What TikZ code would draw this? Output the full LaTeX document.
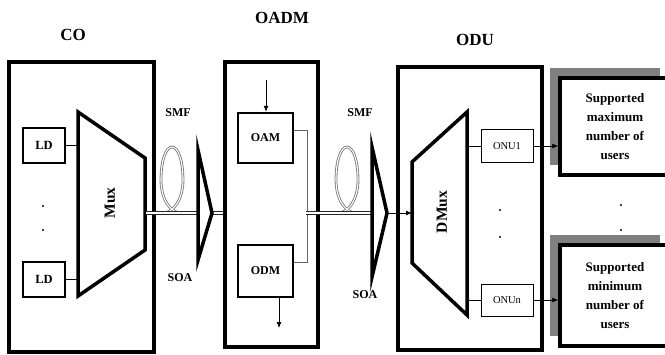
\documentclass[tikz,border=0pt]{standalone}
\usepackage{fontspec}
\setmainfont{Liberation Serif}
\usetikzlibrary{arrows.meta,positioning,shadows}

\begin{document}
\begin{tikzpicture}[x=1pt, y=-1pt,
  unit/.style={draw, line width=3.5pt, inner sep=0pt},
  title/.style={font=\fontsize{17}{20}\selectfont\bfseries},
  tag/.style={font=\fontsize{12}{14}\selectfont\bfseries},
  ldbox/.style={draw, line width=1.8pt, minimum width=42pt, minimum height=35pt, font=\fontsize{12.5}{14}\selectfont\bfseries},
  mbox/.style={draw, line width=2.5pt, minimum width=55pt, minimum height=50pt, font=\fontsize{12}{14}\selectfont\bfseries},
  onubox/.style={draw, line width=0.8pt, minimum width=52pt, minimum height=33pt, font=\fontsize{10.5}{12}\selectfont},
  user/.style={draw, line width=3.5pt, fill=white, minimum width=110pt, minimum height=99pt, align=center,
    font=\fontsize{13}{19}\selectfont\bfseries,
    drop shadow={shadow xshift=-10pt, shadow yshift=10pt, opacity=1, fill=black!50}},
  wedge/.style={draw, line width=3.5pt, line join=miter},
  fiber/.style={draw=black!85, double=white, double distance=1.2pt, line width=1.1pt},
  loopfiber/.style={draw=black!55, double=white, double distance=1.1pt, line width=0.8pt},
  thin/.style={draw, line width=0.7pt},
  arr/.style={line width=0.8pt, -{Latex[length=6pt,width=5pt]}},
  coil/.pic={\draw[loopfiber] (-9,0) .. controls (1,0) and (11,-13) .. (11,-33)
      .. controls (11,-53) and (6,-66) .. (0,-66)
      .. controls (-6,-66) and (-11,-53) .. (-11,-33)
      .. controls (-11,-13) and (-1,0) .. (9,0);}
]
\useasboundingbox (0,0) rectangle (665,354);

% the three sites
\node[unit, minimum width=145pt, minimum height=290pt] (co) at (81.5,207) {};
\node[unit, minimum width=93pt, minimum height=285pt] (oadm) at (271.5,204.5) {};
\node[unit, minimum width=144pt, minimum height=283pt] (odu) at (470,208.5) {};
\node[title] (colabel) at (73,35) {CO};
\node[title] (oadmlabel) at (282,18) {OADM};
\node[title] (odulabel) at (475,40) {ODU};

% central office
\node[ldbox] (ld1) at (44,145.5) {LD};
\node[ldbox] (ldn) at (44,279.5) {LD};
\fill (43,206) circle (1.2pt) (43,230) circle (1.2pt);
\coordinate (mux1) at (78,112);
\coordinate (mux2) at (145,158);
\coordinate (mux3) at (145,250);
\coordinate (mux4) at (78,296);
\draw[wedge] (mux1) -- (mux2) -- (mux3) -- (mux4) -- cycle;
\node[font=\fontsize{15.5}{17}\selectfont\bfseries, rotate=90] (muxlabel) at (110,203) {Mux};
\draw[thin] (ld1.east) -- (ld1.east -| mux1);
\draw[thin] (ldn.east) -- (ldn.east -| mux1);

% first span
\coordinate (muxout) at (146,213);
\coordinate (soa1in) at (198,213);
\coordinate (soa1out) at (212,213);
\pic at (172,213) {coil};
\draw[fiber] (muxout) -- (soa1in);
\draw[fiber] (soa1out) -- (soa1out -| oadm.west);
\draw[wedge] (198,150) -- (soa1out) -- (198,260) -- cycle;
\node[tag] (smf1) at (178,113) {SMF};
\node[tag] (soa1) at (180,278) {SOA};

% add/drop node
\node[mbox] (oam) at (265.5,138) {OAM};
\node[mbox, minimum height=52pt] (odm) at (265.5,271) {ODM};
\coordinate (addin) at (266,80);
\coordinate (dropout) at (279,328);
\draw[arr] (addin) -- (addin |- oam.north);
\draw[arr] (dropout |- odm.south) -- (dropout);
\draw[thin, draw=black!60] ([yshift=8pt]oam.east) -- ++(13,0) |- ([yshift=9pt]odm.east);

% second span
\coordinate (tap) at (306,213);
\coordinate (soa2in) at (372,213);
\coordinate (soa2out) at (387,213);
\pic at (347,213) {coil};
\draw[fiber] (tap) -- (soa2in);
\draw[wedge] (372,147) -- (soa2out) -- (372,277) -- cycle;
\node[tag] (smf2) at (360,113) {SMF};
\node[tag] (soa2) at (365,295) {SOA};

% distribution unit
\coordinate (dmux1) at (412,162);
\coordinate (dmux2) at (467,112);
\coordinate (dmux3) at (467,315);
\coordinate (dmux4) at (412,263);
\draw[wedge] (dmux1) -- (dmux2) -- (dmux3) -- (dmux4) -- cycle;
\node[font=\fontsize{15.5}{17}\selectfont\bfseries, rotate=90] (dmuxlabel) at (442,212) {DMux};
\coordinate (dmuxin) at (412,213);
\draw[arr] (soa2out) -- (dmuxin);
\node[onubox] (onu1) at (507,146) {ONU1};
\node[onubox, minimum height=32pt] (onun) at (507,300) {ONUn};
\fill (500,210) circle (1.2pt) (500,237) circle (1.2pt);
\draw[thin] (onu1.west) -- (onu1.west -| dmux2);
\draw[thin] (onun.west) -- (onun.west -| dmux2);

% users
\fill (621,205) circle (1.2pt) (621,230) circle (1.2pt);
\node[user, minimum height=97pt] (usermax) at (615,126.5) {Supported\\maximum\\number of\\users};
\node[user, minimum height=101pt] (usermin) at (615,295.5) {Supported\\minimum\\number of\\users};
\draw[arr] (onu1.east) -- (onu1.east -| usermax.west);
\draw[arr] (onun.east) -- (onun.east -| usermin.west);
\end{tikzpicture}
\end{document}
